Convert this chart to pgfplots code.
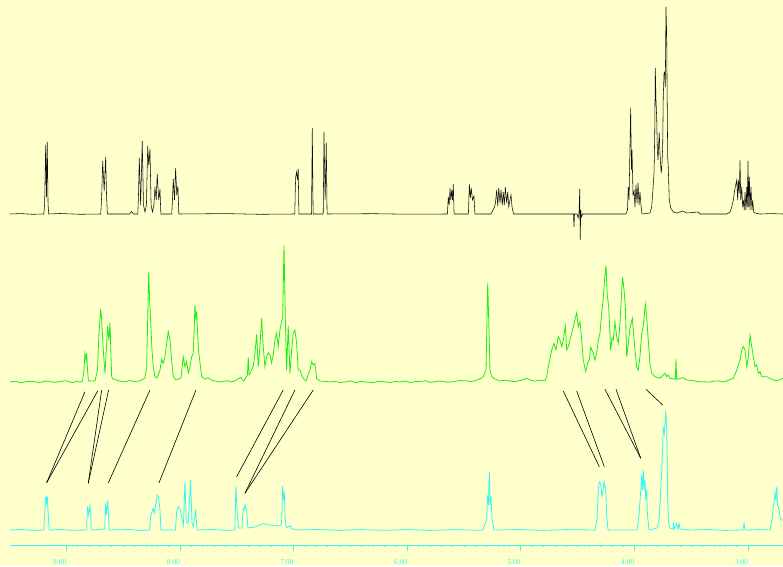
\documentclass[border=0pt]{standalone}
\usepackage{fontspec}
\setmainfont{Liberation Serif}
\usepackage{pgfplots}
\pgfplotsset{compat=1.18}
\definecolor{bgc}{RGB}{255,255,204}
\definecolor{spgreen}{RGB}{25,240,25}
\definecolor{spcyan}{RGB}{50,248,248}
\definecolor{spblack}{RGB}{15,15,15}
\begin{document}
\begin{tikzpicture}
\fill[bgc] (-10pt,-21pt) rectangle (773pt,545pt);
\begin{axis}[
  at={(0,0)}, anchor=south west,
  scale only axis, width=773pt, height=545pt,
  xmin=2.693, xmax=9.497, x dir=reverse,
  ymin=21, ymax=566,
  axis y line=none, axis x line=bottom,
  x axis line style={-, spcyan, line width=1pt},
  xtick={3,4,5,6,7,8,9},
  minor x tick num=9,
  tick align=outside,
  major tick length=6pt, minor tick length=2pt,
  every tick/.style={spcyan, line width=0.9pt},
  xticklabel={\pgfmathprintnumber[fixed,fixed zerofill,precision=2]{\tick}},
  xticklabel style={anchor=north east, inner sep=0pt, yshift=-8pt, text=spcyan, font=\fontsize{7.5}{9}\selectfont},
  /pgf/number format/assume math mode=true,
  clip=false,
]
% ---------- top spectrum (black) ----------
\addplot[spblack, line width=0.55pt] coordinates {
(9.497,352) (9.400,352.4) (9.300,351.7) (9.199,352) (9.192,362) (9.183,421) (9.176,369) (9.169,424) (9.162,362) (9.156,352)
(9.057,352.5) (8.881,351.7)
(8.698,352) (8.690,370) (8.681,405) (8.668,375) (8.655,409) (8.647,370) (8.640,352)
(8.445,352) (8.428,354.5) (8.410,352)
(8.372,352) (8.366,371) (8.359,408) (8.347,361) (8.333,425) (8.322,361) (8.309,354) (8.296,361) (8.285,420) (8.276,401) (8.265,417) (8.255,361) (8.243,354) (8.230,361) (8.221,379) (8.210,366) (8.201,392) (8.188,366) (8.177,377) (8.169,352)
(8.073,352) (8.067,366) (8.060,387) (8.049,366) (8.039,398) (8.029,371) (8.019,380) (8.011,352)
(7.600,352.4) (7.300,351.7)
(6.990,352) (6.986,376) (6.982,389) (6.974,394) (6.967,386) (6.960,397) (6.954,352)
(6.843,352) (6.836,438) (6.829,352)
(6.740,352) (6.733,434) (6.723,366) (6.713,423) (6.706,352)
(6.300,352.3) (6.000,351.8)
(5.647,352) (5.639,369) (5.631,361) (5.624,378) (5.617,366) (5.609,376) (5.602,366) (5.595,382) (5.588,352)
(5.462,352) (5.454,382) (5.445,368) (5.437,378) (5.426,366) (5.413,370) (5.405,352)
(5.263,352) (5.246,356) (5.232,359) (5.224,363) (5.213,376) (5.204,360) (5.195,378) (5.184,363) (5.175,376) (5.164,361) (5.155,374) (5.146,361) (5.137,379) (5.125,363) (5.116,374) (5.107,359) (5.096,366) (5.087,371) (5.078,359) (5.065,352)
(4.568,352) (4.537,352) (4.533,339) (4.528,352) (4.506,352) (4.497,348) (4.489,352) (4.482,377) (4.478,326) (4.473,356) (4.467,349) (4.458,352)
(4.075,352) (4.062,356) (4.055,379) (4.048,366) (4.034,458) (4.027,396) (4.022,416) (4.013,371) (4.004,375) (3.996,359) (3.987,381) (3.978,363) (3.969,383) (3.960,361) (3.952,374) (3.943,361) (3.934,352)
(3.864,353) (3.849,359) (3.840,373) (3.828,393) (3.822,433) (3.817,498) (3.811,466) (3.805,449) (3.799,416) (3.793,406) (3.787,423) (3.782,433) (3.776,413) (3.769,399) (3.764,393) (3.758,403) (3.752,419) (3.747,469) (3.740,493) (3.734,494) (3.729,479) (3.725,533) (3.723,559) (3.717,533) (3.714,489) (3.708,409) (3.703,399) (3.694,366) (3.681,358) (3.658,354) (3.629,353) (3.576,355) (3.541,353) (3.438,354) (3.423,352)
(3.188,352) (3.159,354) (3.144,359) (3.130,366) (3.122,373) (3.113,379) (3.100,386) (3.092,366) (3.086,386) (3.078,373) (3.071,406) (3.065,366) (3.056,379) (3.048,359) (3.042,366) (3.034,356) (3.027,374) (3.019,356) (3.012,379) (3.007,359) (3.001,405) (2.995,359) (2.989,389) (2.983,356) (2.975,379) (2.966,356) (2.960,366) (2.951,354) (2.939,353) (2.895,352) (2.800,352.4) (2.693,352)
};
% ---------- middle spectrum (green) ----------
\addplot[spgreen, line width=0.8pt] coordinates {
(9.497,184) (9.450,184.8) (9.400,183.3) (9.350,184.4) (9.300,184.6) (9.233,183.5) (9.190,184.9) (9.150,184.7) (9.100,183.6) (9.057,184.5) (9.000,185.2) (8.950,183.4) (8.910,184.6) (8.881,184) (8.859,185) (8.846,196) (8.837,212.7) (8.828,206) (8.822,212.7) (8.815,196) (8.806,185)
(8.749,185) (8.727,196) (8.714,232.7) (8.705,246) (8.699,257) (8.690,246) (8.676,216) (8.661,192.7) (8.646,222.7) (8.637,240) (8.626,226) (8.617,243.3) (8.602,189.3) (8.591,187)
(8.529,185) (8.480,184.2) (8.441,185.5) (8.400,184.5) (8.353,185) (8.309,188) (8.294,199.3) (8.276,294.3) (8.268,266) (8.259,244.3) (8.247,216) (8.236,199.3) (8.221,189.3) (8.203,188)
(8.177,196) (8.162,206.7) (8.148,202.7) (8.133,209.3) (8.118,222.7) (8.104,234.3) (8.089,226) (8.074,206) (8.060,189.3) (8.036,186)
(7.992,188) (7.972,209.3) (7.957,199.3) (7.942,204.3) (7.928,192.7) (7.913,199.3) (7.898,209.3) (7.884,212.7) (7.875,238) (7.869,261) (7.860,246) (7.854,254.3) (7.849,241) (7.838,216) (7.810,189.3) (7.781,187) (7.752,188.3) (7.728,186)
(7.649,184) (7.610,184.9) (7.580,185.2) (7.550,184.1) (7.517,185) (7.467,188.7) (7.438,185)
(7.407,191) (7.400,208.7) (7.392,191) (7.385,192.7) (7.356,199.3) (7.341,212.7) (7.326,231.7) (7.312,199.3) (7.297,219.3) (7.282,247.7) (7.268,219.3) (7.253,199.3) (7.238,209.3) (7.224,213.3) (7.209,211) (7.194,203.3) (7.180,211) (7.165,226) (7.150,232.7) (7.136,219.3) (7.121,236) (7.097,249.3) (7.085,321) (7.074,249.3) (7.062,196) (7.048,240) (7.033,192.7) (7.018,216) (7.004,232.7) (6.989,236) (6.974,222.7) (6.960,196) (6.945,196) (6.930,191) (6.916,187.7) (6.892,185)
(6.857,196) (6.842,204.3) (6.828,201) (6.813,202.7) (6.798,187.7) (6.769,185)
(6.720,184.6) (6.681,184) (6.636,184.5) (6.590,183.5) (6.548,184) (6.500,185.1) (6.450,183.3) (6.410,184.6) (6.372,184) (6.300,183.5) (6.250,184.8) (6.200,184.1) (6.150,183.5) (6.100,184.7) (6.064,184) (6.020,185.0) (5.970,183.4) (5.930,184.4) (5.888,184.5) (5.840,185.3) (5.800,183.6) (5.750,184.4) (5.712,185) (5.650,183.8) (5.600,184.2) (5.540,185.4) (5.480,185.3) (5.440,184.4) (5.400,185.5)
(5.360,187) (5.331,189.3) (5.307,196) (5.292,283.3) (5.281,236) (5.272,196) (5.257,189.3) (5.228,187) (5.184,185) (5.140,185.8) (5.096,185) (5.050,184.3) (5.008,185.5) (4.949,187.7) (4.910,185.6) (4.876,185) (4.830,185.8) (4.788,185)
(4.773,189.3) (4.759,199.3) (4.729,216) (4.709,222.7) (4.691,216) (4.671,229.3) (4.656,226) (4.641,219.3) (4.627,226) (4.609,240) (4.597,216) (4.583,219.3) (4.568,226) (4.553,232.7) (4.539,239.3) (4.509,253.3) (4.495,239.3) (4.480,244.3) (4.465,226) (4.451,206) (4.430,194.3) (4.412,202.7) (4.398,206) (4.386,218.7) (4.368,214.3) (4.348,206) (4.333,212.7) (4.319,226) (4.304,232.7) (4.289,252.7) (4.275,267.7) (4.262,289.3) (4.251,300.3) (4.240,271) (4.227,259.3) (4.210,216) (4.198,227.7) (4.187,226) (4.172,244.3) (4.157,229.3) (4.143,222.7) (4.128,242.7) (4.113,274.3) (4.104,288.7) (4.092,276) (4.081,259.3) (4.069,209.3) (4.055,222.7) (4.040,237.7) (4.019,247.7) (4.011,236) (3.996,216) (3.981,199.3) (3.967,196) (3.952,209.3) (3.937,232.7) (3.923,239.3) (3.905,261.7) (3.893,249.3) (3.879,226) (3.864,202.7) (3.849,192.7) (3.820,189.3) (3.776,187.7) (3.747,191) (3.732,192.7) (3.717,189.3) (3.703,191) (3.688,187.7) (3.641,186.7) (3.635,207) (3.629,186.7) (3.571,188.3) (3.541,186) (3.482,185.3) (3.440,184.4) (3.400,184.2) (3.335,184) (3.300,184.9) (3.260,185.2) (3.230,184.2) (3.203,184.5)
(3.130,187.7) (3.100,196) (3.071,206) (3.056,216) (3.042,219.3) (3.027,216) (3.012,199.3) (2.998,209.3) (2.983,231) (2.968,219.3) (2.954,209.3) (2.939,199.3) (2.924,201) (2.910,192.7) (2.895,194.3) (2.880,189.3) (2.836,189.3) (2.778,186) (2.740,185.2) (2.693,187.7)
};
% ---------- bottom spectrum (cyan) ----------
\addplot[spcyan, line width=0.8pt] coordinates {
(9.497,36) (9.400,36.6) (9.300,35.6) (9.200,36) (9.192,51) (9.183,69.3) (9.176,63) (9.169,70) (9.160,51) (9.152,36)
(9.050,36.5) (8.950,35.7)
(8.822,36) (8.818,51) (8.813,60) (8.804,51) (8.793,60) (8.786,51) (8.782,36)
(8.664,37) (8.659,51) (8.655,62.7) (8.648,51) (8.637,66) (8.630,51) (8.624,36)
(8.450,36.5) (8.350,35.6)
(8.269,36) (8.259,49.3) (8.247,54.3) (8.236,57.7) (8.227,52.7) (8.215,61) (8.201,71) (8.188,69.3) (8.177,56) (8.168,36)
(8.041,36) (8.030,54.3) (8.016,59.3) (8.001,57.7) (7.986,49.3) (7.970,41) (7.957,84.3) (7.945,43) (7.928,43) (7.907,86) (7.895,43) (7.882,39) (7.863,56.7) (7.851,37) (7.842,36)
(7.700,36.5) (7.600,35.6)
(7.518,36) (7.508,80) (7.497,52.7) (7.486,38) (7.455,38) (7.444,57.7) (7.435,56) (7.429,61) (7.414,56) (7.402,38)
(7.341,39) (7.297,41) (7.268,42.7) (7.238,41.7) (7.209,41) (7.180,40.7) (7.138,40) (7.107,41) (7.097,80) (7.090,66) (7.083,74.3) (7.074,46) (7.063,38) (7.033,40.3) (7.015,37) (6.945,36)
(6.800,36.6) (6.600,35.6) (6.400,36.4) (6.200,35.7) (6.000,36.5) (5.800,35.6) (5.600,36.4) (5.400,35.8)
(5.334,36) (5.303,46) (5.292,71) (5.285,61) (5.278,94.3) (5.270,61) (5.263,69.3) (5.254,46) (5.237,36)
(5.000,36.5) (4.800,35.6) (4.600,36.4)
(4.348,36) (4.330,46) (4.319,76) (4.310,84.3) (4.298,82.7) (4.292,76) (4.286,69.3) (4.277,76) (4.268,84.3) (4.262,79) (4.254,79.3) (4.245,51) (4.233,36)
(3.978,36) (3.960,51) (3.945,76) (3.937,91) (3.930,76) (3.923,96.7) (3.915,76) (3.908,86) (3.901,66) (3.893,76) (3.886,51) (3.872,36)
(3.802,38) (3.784,46) (3.776,61) (3.761,92.7) (3.754,116) (3.747,139.3) (3.738,132.7) (3.725,155.3) (3.717,136) (3.711,96) (3.708,66) (3.701,44) (3.688,38) (3.661,37) (3.658,42.7) (3.648,37) (3.629,42.7) (3.617,37) (3.608,42.7) (3.600,37) (3.511,36)
(3.350,36.5) (3.200,35.6)
(3.045,36) (3.036,42.7) (3.027,36)
(2.900,36.4) (2.807,36) (2.790,46) (2.778,59.3) (2.770,66) (2.763,72.7) (2.756,66) (2.748,79.3) (2.741,61) (2.734,59.3) (2.719,49.3) (2.706,46) (2.693,46)
};
% ---------- correlation lines ----------
\foreach \xa/\ya/\xb/\yb in {
8.837/174.3/9.174/83.3, 8.725/175/9.174/83.3, 8.690/176/8.808/82.7, 8.629/176/8.808/82.7,
8.265/176/8.632/83, 7.860/176/8.186/83, 7.092/176/7.502/89.3, 6.989/176/7.429/72.7,
6.828/176/7.429/72.7, 4.627/175/4.310/99.3, 4.509/175/4.266/99.3, 4.260/176.7/3.945/107.7,
4.163/176.7/3.945/107.7, 3.899/176.7/3.752/161}{
  \edef\temp{\noexpand\addplot[black, line width=0.6pt] coordinates {(\xa,\ya) (\xb,\yb)};}
  \temp
}
\end{axis}
\pgfresetboundingbox
\path[use as bounding box] (-10pt,-21pt) rectangle (773pt,545pt);
\end{tikzpicture}
\end{document}
